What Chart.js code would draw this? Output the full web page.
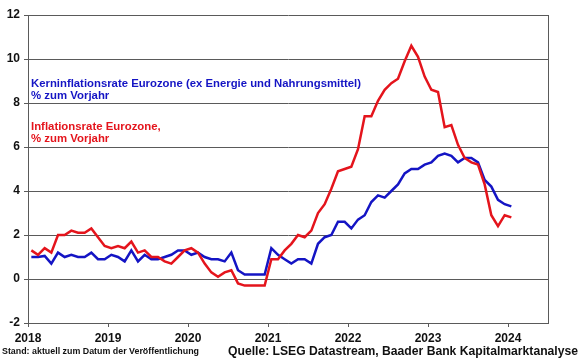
<!DOCTYPE html>
<html>
<head>
<meta charset="utf-8">
<script src="https://cdn.jsdelivr.net/npm/chart.js@4/dist/chart.umd.min.js"></script>
<style>
  html, body { margin: 0; padding: 0; background: #ffffff; }
  #wrap { width: 580px; height: 359px; }
</style>
</head>
<body>
<div id="wrap"><canvas id="c" width="580" height="359"></canvas></div>
<script>
// Monthly values, Jan 2018 .. Jan 2024
const startYear = 2018;
const headline = [
  1.3, 1.1, 1.4, 1.2, 2.0, 2.0, 2.2, 2.1, 2.1, 2.3, 1.9, 1.5,
  1.4, 1.5, 1.4, 1.7, 1.2, 1.3, 1.0, 1.0, 0.8, 0.7, 1.0, 1.3,
  1.4, 1.2, 0.7, 0.3, 0.1, 0.3, 0.4, -0.2, -0.3, -0.3, -0.3, -0.3,
  0.9, 0.9, 1.3, 1.6, 2.0, 1.9, 2.2, 3.0, 3.4, 4.1, 4.9, 5.0,
  5.1, 5.9, 7.4, 7.4, 8.1, 8.6, 8.9, 9.1, 9.9, 10.6, 10.1, 9.2,
  8.6, 8.5, 6.9, 7.0, 6.1, 5.5, 5.3, 5.2, 4.3, 2.9, 2.4, 2.9,
  2.8
];
const core = [
  1.0, 1.0, 1.05, 0.7, 1.2, 1.0, 1.1, 1.0, 1.0, 1.2, 0.9, 0.9,
  1.1, 1.0, 0.8, 1.3, 0.8, 1.1, 0.9, 0.9, 1.0, 1.1, 1.3, 1.3,
  1.1, 1.2, 1.0, 0.9, 0.9, 0.8, 1.2, 0.4, 0.2, 0.2, 0.2, 0.2,
  1.4, 1.1, 0.9, 0.7, 0.9, 0.9, 0.7, 1.6, 1.9, 2.0, 2.6, 2.6,
  2.3, 2.7, 2.9, 3.5, 3.8, 3.7, 4.0, 4.3, 4.8, 5.0, 5.0, 5.2,
  5.3, 5.6, 5.7, 5.6, 5.3, 5.5, 5.5, 5.3, 4.5, 4.2, 3.6, 3.4,
  3.3
];
const yearLabels = ['2018', '2019', '2020', '2021', '2022', '2023', '2024'];
const yTicks = [-2, 0, 2, 4, 6, 8, 10, 12];

const coreLabel = ['Kerninflationsrate Eurozone (ex Energie und Nahrungsmittel)', '% zum Vorjahr'];
const headlineLabel = ['Inflationsrate Eurozone,', '% zum Vorjahr'];
const footLeft = 'Stand: aktuell zum Datum der Veröffentlichung';
const footRight = 'Quelle: LSEG Datastream, Baader Bank Kapitalmarktanalyse';

const RED = '#e4141c';
const BLUE = '#1414c4';
const GRID = '#5a5a5a';

// month index (mid-month) for each value
const toPoints = arr => arr.map((v, i) => ({ x: i + 0.5, y: v }));
const yearTickValues = yearLabels.map((_, k) => k * 12);

const textPlugin = {
  id: 'texts',
  afterDraw(chart) {
    const ctx = chart.ctx;
    const a = chart.chartArea;
    ctx.save();
    // right border
    ctx.strokeStyle = GRID;
    ctx.lineWidth = 1;
    ctx.beginPath();
    ctx.moveTo(a.right + 0.5, a.top);
    ctx.lineTo(a.right + 0.5, a.bottom);
    ctx.stroke();

    ctx.textBaseline = 'middle';
    ctx.textAlign = 'left';
    ctx.font = 'bold 11.4px "Liberation Sans", Arial, sans-serif';
    ctx.fillStyle = BLUE;
    ctx.fillText(coreLabel[0], 31, 84, 330);
    ctx.fillText(coreLabel[1], 31, 96);
    ctx.fillStyle = RED;
    ctx.fillText(headlineLabel[0], 31, 127);
    ctx.fillText(headlineLabel[1], 31, 139);

    ctx.fillStyle = '#111111';
    ctx.font = 'bold 8.9px "Liberation Sans", Arial, sans-serif';
    ctx.fillText(footLeft, 2, 352, 197);
    ctx.font = 'bold 12.5px "Liberation Sans", Arial, sans-serif';
    ctx.textAlign = 'right';
    ctx.fillText(footRight, 578, 352, 350);
    ctx.restore();
  }
};

new Chart(document.getElementById('c'), {
  type: 'line',
  data: {
    datasets: [
      {
        label: 'Kerninflationsrate',
        data: toPoints(core),
        borderColor: BLUE,
        borderWidth: 2.5,
        pointRadius: 0,
        tension: 0,
        fill: false,
        order: 2
      },
      {
        label: 'Inflationsrate',
        data: toPoints(headline),
        borderColor: RED,
        borderWidth: 2.5,
        pointRadius: 0,
        tension: 0,
        fill: false,
        order: 1
      }
    ]
  },
  options: {
    responsive: false,
    animation: false,
    devicePixelRatio: 1,
    layout: { padding: { top: 15, right: 32, left: 0, bottom: 0 } },
    plugins: { legend: { display: false }, tooltip: { enabled: false } },
    scales: {
      x: {
        type: 'linear',
        min: 0,
        max: 78,
        afterBuildTicks: s => { s.ticks = yearTickValues.map(v => ({ value: v })); },
        afterFit: s => { s.height = 36; },
        ticks: {
          autoSkip: false,
          maxRotation: 0,
          padding: 4,
          color: '#111111',
          font: { family: '"Liberation Sans", Arial, sans-serif', size: 12, weight: 'bold' },
          callback: v => yearLabels[yearTickValues.indexOf(v)] ?? ''
        },
        grid: { drawOnChartArea: false, drawTicks: true, tickLength: 4, color: GRID },
        border: { color: GRID, width: 1 }
      },
      y: {
        min: -2,
        max: 12,
        afterBuildTicks: s => { s.ticks = yTicks.map(v => ({ value: v })); },
        afterFit: s => { s.width = 28; },
        ticks: {
          padding: 4,
          color: '#111111',
          font: { family: '"Liberation Sans", Arial, sans-serif', size: 12, weight: 'bold' }
        },
        grid: { color: GRID, lineWidth: 1, tickLength: 4 },
        border: { color: GRID, width: 1 }
      }
    }
  },
  plugins: [textPlugin]
});
</script>
</body>
</html>
